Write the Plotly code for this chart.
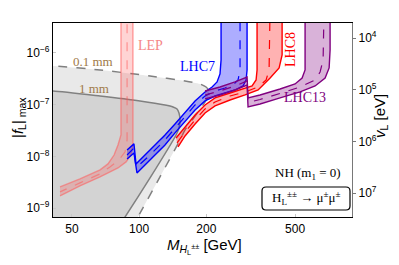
import plotly.graph_objects as go

# ---------------- data ----------------
# 1 mm decay-length boundary (solid gray)
mm1_M = [41.1, 66.8, 100.9, 130.6, 141.9, 147.9, 150.9, 152.5, 150.9, 146.4, 111.9, 86.5, 79.3]
mm1_f = [1.84e-7, 1.47e-7, 1.18e-7, 9.87e-8, 9.03e-8, 8.25e-8, 6.91e-8, 5.06e-8, 3.54e-8, 2.59e-8, 3.82e-9, 6.73e-10, 3.77e-10]
# 0.1 mm decay-length boundary (dashed gray)
mm01_M = [41.1, 66.8, 111.9, 160.6, 187.5, 199.5, 205.8, 203.7, 193.4, 178.1, 160.6, 152.5, 124.0, 98.8, 91.9]
mm01_f = [5.60e-7, 4.69e-7, 3.59e-7, 2.87e-7, 2.51e-7, 2.20e-7, 1.84e-7, 1.41e-7, 9.87e-8, 6.04e-8, 3.24e-8, 2.08e-8, 4.00e-9, 6.73e-10, 3.77e-10]

# LEP band
lep_up_M = [82.9, 82.9, 80.4, 77.2, 72.5, 66.8, 54.3, 44.2]
lep_up_f = [8e-6, 2.59e-8, 1.66e-8, 1.06e-8, 7.13e-9, 5.46e-9, 3.66e-9, 2.56e-9]
lep_lo_M = [93.8, 93.8, 91.9, 87.4, 80.4, 66.8, 54.3, 44.2]
lep_lo_f = [8e-6, 1.66e-8, 1.06e-8, 7.80e-9, 5.96e-9, 4.00e-9, 2.68e-9, 1.71e-9]
lep_c_M = [88.3, 88.3, 86.5, 81.2, 74.0, 66.8, 54.3, 44.2]
lep_c_f = [8e-6, 2.08e-8, 1.22e-8, 8.52e-9, 6.24e-9, 4.57e-9, 3.06e-9, 2.05e-9]

# LHC7 band
lhc7_up_M = [88.3, 94.8, 96.8, 111.9, 130.6, 144.8, 160.6, 178.1, 197.4, 212.3, 223.5, 230.4, 232.9, 232.9]
lhc7_up_f = [1.33e-8, 1.74e-8, 7.13e-9, 1.33e-8, 2.59e-8, 4.23e-8, 7.22e-8, 1.18e-7, 1.76e-7, 2.20e-7, 2.75e-7, 3.93e-7, 7.32e-7, 8e-6]
lhc7_lo_M = [88.3, 94.8, 97.8, 111.9, 130.6, 144.8, 160.6, 178.1, 197.4, 218.9, 242.6, 269.0, 292.2, 301.5, 304.6, 304.6]
lhc7_lo_f = [8.91e-9, 1.16e-8, 4.78e-9, 8.52e-9, 1.66e-8, 2.84e-8, 4.84e-8, 7.90e-8, 1.18e-7, 1.47e-7, 1.68e-7, 1.92e-7, 2.30e-7, 3.00e-7, 4.69e-7, 8e-6]
lhc7_c_M = [88.3, 94.8, 96.8, 111.9, 130.6, 144.8, 160.6, 178.1, 197.4, 218.9, 242.6, 263.6, 277.5, 283.3, 283.3]
lhc7_c_f = [1.06e-8, 1.45e-8, 5.96e-9, 1.06e-8, 2.08e-8, 3.54e-8, 6.04e-8, 9.87e-8, 1.47e-7, 1.84e-7, 2.10e-7, 2.40e-7, 3.00e-7, 4.69e-7, 8e-6]

# LHC8 band
lhc8_up_M = [146.4, 160.6, 178.1, 197.4, 218.9, 255.5, 298.4, 320.8, 334.3, 337.7, 337.7]
lhc8_up_f = [2.27e-8, 3.70e-8, 6.32e-8, 9.87e-8, 1.35e-7, 1.68e-7, 2.10e-7, 2.30e-7, 3.00e-7, 4.69e-7, 8e-6]
lhc8_lo_M = [149.4, 160.6, 178.1, 197.4, 218.9, 255.5, 298.4, 341.4, 386.3, 424.0, 437.3, 437.3]
lhc8_lo_f = [1.52e-8, 2.48e-8, 4.23e-8, 6.91e-8, 9.44e-8, 1.23e-7, 1.54e-7, 1.92e-7, 3.28e-7, 5.13e-7, 9.15e-7, 8e-6]
lhc8_c_M = [147.9, 160.6, 178.1, 197.4, 218.9, 255.5, 298.4, 341.4, 370.7, 382.3, 386.3]
lhc8_c_f = [1.82e-8, 2.96e-8, 5.06e-8, 8.25e-8, 1.13e-7, 1.47e-7, 1.76e-7, 2.20e-7, 3.00e-7, 4.69e-7, 8e-6]

# LHC13 band
lhc13_up_M = [197.4, 230.4, 269.0, 304.6, 307.7, 348.3, 428.3, 500.0, 537.5, 554.3, 554.3]
lhc13_up_f = [1.84e-7, 2.20e-7, 2.75e-7, 3.43e-7, 1.35e-7, 1.54e-7, 2.01e-7, 2.51e-7, 3.28e-7, 4.69e-7, 8e-6]
lhc13_lo_M = [197.4, 230.4, 269.0, 304.6, 307.7, 348.3, 428.3, 526.4, 614.7, 681.5, 710.4, 717.5, 717.5]
lhc13_lo_f = [1.29e-7, 1.54e-7, 1.92e-7, 2.40e-7, 9.03e-8, 1.03e-7, 1.35e-7, 1.76e-7, 2.30e-7, 3.28e-7, 5.13e-7, 1.14e-6, 8e-6]
lhc13_c_M = [197.4, 230.4, 269.0, 304.6, 307.7, 348.3, 428.3, 526.4, 614.7, 647.2, 667.6, 674.5]
lhc13_c_f = [1.54e-7, 1.84e-7, 2.29e-7, 2.87e-7, 1.10e-7, 1.26e-7, 1.65e-7, 2.20e-7, 3.00e-7, 4.29e-7, 7.32e-7, 8e-6]

x_ticks = [50, 100, 200, 500]
y_ticks = [1e-9, 1e-8, 1e-7, 1e-6]
y_tick_text = ["10<sup>−9</sup>", "10<sup>−8</sup>", "10<sup>−7</sup>", "10<sup>−6</sup>"]
v_ticks = [1e4, 1e5, 1e6, 1e7]
v_tick_text = ["10<sup>4</sup>", "10<sup>5</sup>", "10<sup>6</sup>", "10<sup>7</sup>"]

# ---------------- figure ----------------
fig = go.Figure()
M_EDGE = 30  # left closing abscissa, outside the visible range

def region(Ms, fs, color):
    xs = [M_EDGE] + list(Ms) + [M_EDGE]
    ys = [fs[0]] + list(fs) + [fs[-1]]
    fig.add_trace(go.Scatter(x=xs, y=ys, mode="lines", fill="toself", fillcolor=color,
                             line=dict(width=0, shape="spline", smoothing=0.6), hoverinfo="skip"))

def boundary(Ms, fs, dash):
    fig.add_trace(go.Scatter(x=[M_EDGE] + list(Ms), y=[fs[0]] + list(fs), mode="lines",
                             line=dict(color="rgb(128,128,128)", width=1.5, dash=dash,
                                       shape="spline", smoothing=0.6)))

region(mm01_M, mm01_f, "rgb(233,233,233)")
region(mm1_M, mm1_f, "rgb(211,211,211)")
boundary(mm01_M, mm01_f, "dash")
boundary(mm1_M, mm1_f, "solid")

def band(upM, upf, loM, lof, cM, cf, fillc, linec):
    fig.add_trace(go.Scatter(x=list(upM) + list(loM)[::-1], y=list(upf) + list(lof)[::-1],
                             mode="lines", fill="toself", fillcolor=fillc, line=dict(width=0)))
    fig.add_trace(go.Scatter(x=upM, y=upf, mode="lines", line=dict(color=linec, width=1.4)))
    fig.add_trace(go.Scatter(x=loM, y=lof, mode="lines", line=dict(color=linec, width=1.4)))
    fig.add_trace(go.Scatter(x=cM, y=cf, mode="lines", line=dict(color=linec, width=1.2, dash="dash")))

band(lep_up_M, lep_up_f, lep_lo_M, lep_lo_f, lep_c_M, lep_c_f, "rgba(255,60,60,0.22)", "rgba(255,90,90,0.55)")
band(lhc7_up_M, lhc7_up_f, lhc7_lo_M, lhc7_lo_f, lhc7_c_M, lhc7_c_f, "rgba(0,0,255,0.32)", "rgb(0,0,255)")
band(lhc8_up_M, lhc8_up_f, lhc8_lo_M, lhc8_lo_f, lhc8_c_M, lhc8_c_f, "rgba(255,0,0,0.30)", "rgb(255,0,0)")
band(lhc13_up_M, lhc13_up_f, lhc13_lo_M, lhc13_lo_f, lhc13_c_M, lhc13_c_f, "rgba(128,0,128,0.30)", "rgb(128,0,128)")

# invisible trace for the right axis
fig.add_trace(go.Scatter(x=[100], y=[1e5], yaxis="y2", mode="markers", marker=dict(opacity=0)))

serif = "Liberation Serif"
sans = "Liberation Sans"

# page offset of the figure inside the window (browser body margin)
OFF = 8
L, T = 53 - OFF, 23 - OFF
W_PLOT, H_PLOT = 299, 194

def px2paper(px, py):
    return (px - OFF - L) / W_PLOT, (T + H_PLOT - (py - OFF)) / H_PLOT

def txt(px, py, s, color, size, angle=0, family=serif):
    xx, yy = px2paper(px, py)
    fig.add_annotation(x=xx, y=yy, xref="paper", yref="paper", text=s, showarrow=False,
                       font=dict(family=family, size=size, color=color), textangle=angle,
                       xanchor="center", yanchor="middle")

for (px, py, s, c, sz, a) in [
    (93, 62, "0.1 mm", "rgb(160,122,72)", 13, 0),
    (94, 88, "1 mm", "rgb(160,122,72)", 13, 0),
    (150, 45, "LEP", "rgb(245,135,135)", 14, 0),
    (197, 66, "LHC7", "rgb(0,0,255)", 14, 0),
    (291, 50, "LHC8", "rgb(255,0,0)", 14, -90),
    (305, 98, "LHC13", "rgb(128,0,128)", 14, 0),
    (308, 173, "NH (m<sub>1</sub> = 0)", "black", 13, 0),
    (306, 198, "H<sub>L</sub><sup>±±</sup> → μ<sup>±</sup>μ<sup>±</sup>", "black", 13, 0),
]:
    txt(px, py, s, c, sz, a)

# axis titles
txt(204, 247, "<i>M</i><sub><i>H</i><sub>L</sub><sup>±±</sup></sub> [GeV]", "black", 15, 0, sans)
txt(18, 118, "|<i>f</i><sub>L</sub>|<sub> max</sub>", "black", 15, -90, sans)
txt(381, 116, "<i>v</i><sub>L</sub> [eV]", "black", 15, -90, sans)

# rounded box
x0, y1 = px2paper(262, 187)
x1, y0 = px2paper(350, 210)
rx, ry = 4 / W_PLOT, 4 / H_PLOT
path = (f"M {x0+rx},{y0} L {x1-rx},{y0} Q {x1},{y0} {x1},{y0+ry} L {x1},{y1-ry} "
        f"Q {x1},{y1} {x1-rx},{y1} L {x0+rx},{y1} Q {x0},{y1} {x0},{y1-ry} "
        f"L {x0},{y0+ry} Q {x0},{y0} {x0+rx},{y0} Z")
fig.add_shape(type="path", path=path, xref="paper", yref="paper",
              line=dict(color="black", width=1.2))

fig.update_layout(
    width=399, height=265,
    margin=dict(l=L, r=399 - L - W_PLOT, t=T, b=265 - T - H_PLOT, autoexpand=False),
    paper_bgcolor="white", plot_bgcolor="white",
    showlegend=False,
    xaxis=dict(type="log", range=[1.614, 2.954], tickvals=x_ticks, ticktext=[str(v) for v in x_ticks],
               showgrid=False, zeroline=False, showline=True, linecolor="black", linewidth=1.2,
               mirror=True, ticks="inside", ticklen=3, tickcolor="rgb(200,200,200)", automargin=False,
               tickfont=dict(family=sans, size=12, color="black")),
    yaxis=dict(type="log", range=[-9.174, -5.42], tickvals=y_ticks, ticktext=y_tick_text,
               showgrid=False, zeroline=False, showline=True, linecolor="black", linewidth=1.2,
               ticks="inside", ticklen=3, tickcolor="rgb(200,200,200)", automargin=False,
               tickfont=dict(family=sans, size=12, color="black")),
    yaxis2=dict(type="log", range=[7.46, 3.71], overlaying="y", side="right",
                tickvals=v_ticks, ticktext=v_tick_text, showgrid=False, zeroline=False,
                showline=True, linecolor="rgb(120,120,120)", linewidth=1.2, automargin=False,
                ticks="outside", ticklen=3, tickcolor="rgb(120,120,120)",
                tickfont=dict(family=sans, size=12, color="black")),
)

fig.write_html("out.html")
